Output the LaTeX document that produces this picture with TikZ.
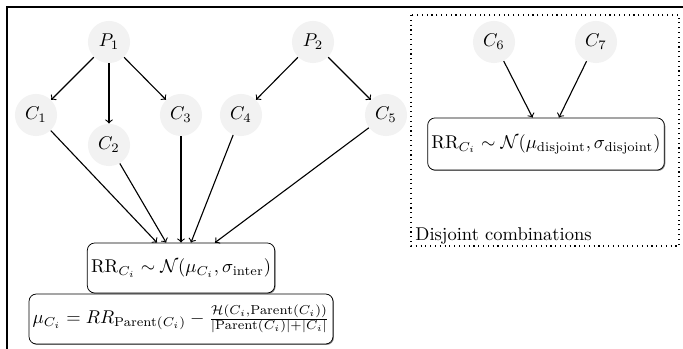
\documentclass[tikz,border=0pt]{standalone}
\usetikzlibrary{shadows}
\begin{document}
\begin{tikzpicture}[x=0.019cm,y=-0.019cm,
  var/.style={circle,fill=black!5,minimum size=0.8cm,inner sep=0pt},
  eqbox/.style={draw,rounded corners=4pt,fill=white,align=center,inner sep=2pt,
    drop shadow={shadow xshift=0.5pt,shadow yshift=-0.5pt,fill=black!60,opacity=0.8}},
  link/.style={->,semithick}]
\useasboundingbox (0,0) rectangle (683,349);
\draw[semithick] (7,349) -- (7,7) -- (683,7);
\draw[dotted,semithick] (411,15) rectangle (679,246);
\node[var] (P1) at (109,42) {$P_1$};
\node[var] (P2) at (313,42) {$P_2$};
\node[var] (C1) at (36,115) {$C_1$};
\node[var] (C2) at (109,145) {$C_2$};
\node[var] (C3) at (181,115) {$C_3$};
\node[var] (C4) at (241,115) {$C_4$};
\node[var] (C5) at (386,115) {$C_5$};
\node[var] (C6) at (494,42) {$C_6$};
\node[var] (C7) at (596,42) {$C_7$};
\node[eqbox,minimum width=3.55cm,minimum height=0.95cm] (B2) at (181,319)
  {$\mu_{C_i} = RR_{\mathrm{Parent}(C_i)} - \frac{\mathcal{H}(C_i,\mathrm{Parent}(C_i))}{|\mathrm{Parent}(C_i)|+|C_i|}$};
\node[eqbox,minimum width=3.55cm,minimum height=0.95cm] (B1) at (181,268)
  {$\mathrm{RR}_{C_i} \sim \mathcal{N}(\mu_{C_i},\sigma_{\mathrm{inter}})$};
\node[eqbox,minimum width=4.48cm,minimum height=0.99cm] (B3) at (546,144)
  {$\mathrm{RR}_{C_i} \sim \mathcal{N}(\mu_{\mathrm{disjoint}},\sigma_{\mathrm{disjoint}})$};
\node[anchor=west,inner sep=0pt] (lab) at (415,236) {Disjoint combinations};
\draw[link] (P1) -- (C1);
\draw[link] (P1) -- (C2);
\draw[link] (P1) -- (C3);
\draw[link] (P2) -- (C4);
\draw[link] (P2) -- (C5);
\draw[link] (C1) -- (B1);
\draw[link] (C2) -- (B1);
\draw[link] (C3) -- (B1);
\draw[link] (C4) -- (B1);
\draw[link] (C5) -- (B1);
\draw[link] (C6) -- (B3);
\draw[link] (C7) -- (B3);
\end{tikzpicture}
\end{document}
